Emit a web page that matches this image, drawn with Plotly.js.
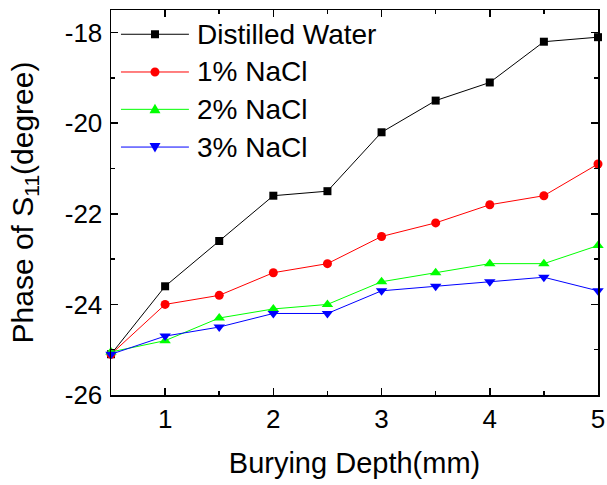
<!DOCTYPE html>
<html>
<head>
<meta charset="utf-8">
<script src="https://cdn.plot.ly/plotly-3.0.1.min.js"></script>
<style>html,body{margin:0;padding:0;background:#fff;}#chart{width:607px;height:485px;}</style>
</head>
<body>
<div id="chart"></div>
<script>
const depth = [0.5, 1, 1.5, 2, 2.5, 3, 3.5, 4, 4.5, 5];
const distilledWater = [-25.1, -23.6, -22.6, -21.6, -21.5, -20.2, -19.5, -19.1, -18.2, -18.1];
const nacl1 = [-25.1, -24.0, -23.8, -23.3, -23.1, -22.5, -22.2, -21.8, -21.6, -20.9];
const nacl2 = [-25.05, -24.8, -24.3, -24.1, -24.0, -23.5, -23.3, -23.1, -23.1, -22.7];
const nacl3 = [-25.1, -24.7, -24.5, -24.2, -24.2, -23.7, -23.6, -23.5, -23.4, -23.7];
const seriesNames = ['Distilled Water', '1% NaCl', '2% NaCl', '3% NaCl'];
const xTicks = [1, 2, 3, 4, 5];
const xTickLabels = ['1', '2', '3', '4', '5'];
const yTicks = [-26, -24, -22, -20, -18];
const yTickLabels = ['-26', '-24', '-22', '-20', '-18'];

const FONT = 'Arial, "Liberation Sans", sans-serif';
const colors = ['#000000', '#ff0000', '#00ff00', '#0000ff'];
const symbols = ['square', 'circle', 'triangle-up', 'triangle-down'];
const sizes = [8, 9, 10, 10];
const seriesY = [distilledWater, nacl1, nacl2, nacl3];

const data = seriesY.map((y, i) => ({
  x: depth, y: y, name: seriesNames[i], type: 'scatter', mode: 'lines+markers',
  line: {color: colors[i], width: 1},
  marker: {color: colors[i], symbol: symbols[i], size: sizes[i], line: {width: 0}},
  cliponaxis: false, showlegend: false
}));

// manual legend (paper coordinates of the plot area)
const legX0 = 0.0205, legX1 = 0.160, legXm = 0.0903, legXt = 0.172;
const legY = [0.937, 0.839, 0.742, 0.644];
const shapes = [];
const annotations = [];
const markerPaths = {
  'triangle-up': 'M-5.5,-4 L5.5,-4 L0,5.5 Z',
  'triangle-down': 'M-5.5,4 L5.5,4 L0,-5.5 Z'
};
seriesNames.forEach((name, i) => {
  shapes.push({type: 'line', xref: 'paper', yref: 'paper', x0: legX0, x1: legX1, y0: legY[i], y1: legY[i],
    line: {color: colors[i], width: 1}});
  const base = {xref: 'paper', yref: 'paper', xsizemode: 'pixel', ysizemode: 'pixel',
    xanchor: legXm, yanchor: legY[i], fillcolor: colors[i], line: {width: 0}};
  if (symbols[i] === 'square') {
    shapes.push(Object.assign({type: 'rect', x0: -4, x1: 4, y0: -4, y1: 4}, base));
  } else if (symbols[i] === 'circle') {
    shapes.push(Object.assign({type: 'circle', x0: -4.5, x1: 4.5, y0: -4.5, y1: 4.5}, base));
  } else {
    shapes.push(Object.assign({type: 'path', path: markerPaths[symbols[i]]}, base));
  }
  annotations.push({xref: 'paper', yref: 'paper', x: legXt, y: legY[i], xanchor: 'left', yanchor: 'middle',
    text: name, showarrow: false, font: {family: FONT, size: 28, color: '#000'}});
});

const axisCommon = {showgrid: false, zeroline: false, showline: true, linecolor: '#000', linewidth: 1.5,
  mirror: 'ticks', ticks: 'inside', ticklen: 7, tickwidth: 1.5, tickcolor: '#000',
  tickfont: {family: FONT, size: 26, color: '#000'}};
const layout = {
  width: 607, height: 485,
  margin: {l: 111, r: 9, t: 10, b: 90},
  paper_bgcolor: '#fff', plot_bgcolor: '#fff',
  font: {family: FONT, color: '#000'},
  showlegend: false,
  xaxis: Object.assign({}, axisCommon, {range: [0.5, 5], tickvals: xTicks, ticktext: xTickLabels, ticklabelstandoff: 0,
    minor: {dtick: 0.5, tick0: 0.5, ticks: 'inside', ticklen: 4, tickwidth: 1.5, tickcolor: '#000'},
    title: {text: 'Burying Depth(mm)', font: {family: FONT, size: 29, color: '#000'}, standoff: 20}}),
  yaxis: Object.assign({}, axisCommon, {range: [-26, -17.5], tickvals: yTicks, ticktext: yTickLabels, ticklabelstandoff: 2,
    minor: {dtick: 1, tick0: -26, ticks: 'inside', ticklen: 4, tickwidth: 1.5, tickcolor: '#000'},
    title: {text: 'Phase of S<sub>11</sub>(degree)', font: {family: FONT, size: 30, color: '#000'}, standoff: 22}}),
  shapes: shapes,
  annotations: annotations
};
Plotly.newPlot('chart', data, layout, {displayModeBar: false, staticPlot: true});
</script>
</body>
</html>
